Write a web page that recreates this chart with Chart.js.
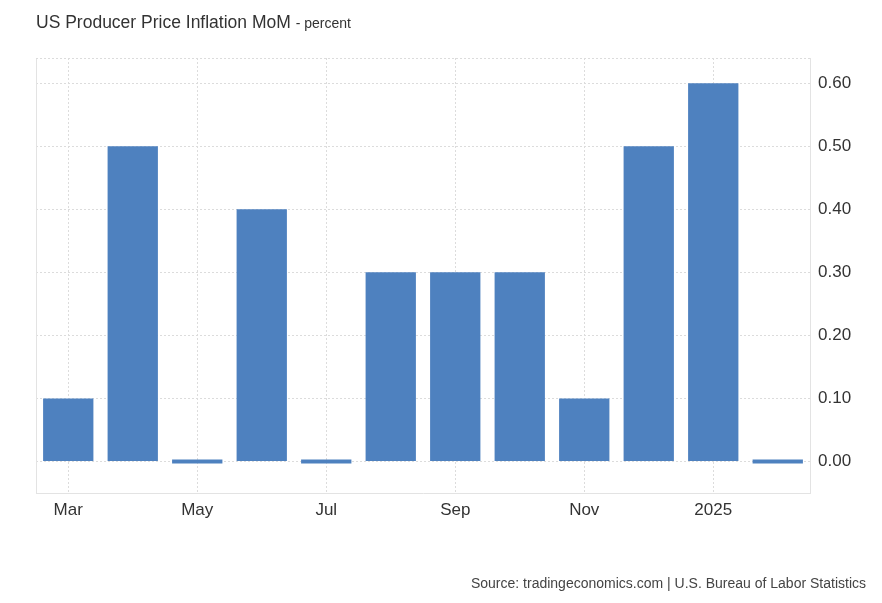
<!DOCTYPE html>
<html>
<head>
<meta charset="utf-8">
<script src="https://cdn.jsdelivr.net/npm/chart.js@4"></script>
<style>
  body { margin: 0; background: #fff; font-family: "Liberation Sans", Arial, sans-serif; }
  #wrap { position: absolute; left: 0; top: 0; width: 882px; height: 603px; }
  #title { position: absolute; left: 36px; top: 12px; font-size: 17.5px; color: #333; }
  #title small { font-size: 14px; }
  #source { position: absolute; right: 16px; top: 575px; font-size: 14px; color: #444; }
</style>
</head>
<body>
<div id="wrap"><canvas id="barChart"></canvas></div>
<div id="title">US Producer Price Inflation MoM <small>- percent</small></div>
<div id="source">Source: tradingeconomics.com | U.S. Bureau of Labor Statistics</div>
<script>
const months = ["Mar", "Apr", "May", "Jun", "Jul", "Aug", "Sep", "Oct", "Nov", "Dec", "2025", "Feb"];
const ppiMoM = [0.1, 0.5, 0.0, 0.4, 0.0, 0.3, 0.3, 0.3, 0.1, 0.5, 0.6, 0.0];
const yTicks = [0, 0.1, 0.2, 0.3, 0.4, 0.5, 0.6];

// left edge + top dotted line of the plot frame
const frame = {
  id: "frame",
  beforeDatasetsDraw(chart) {
    const { ctx, chartArea: a } = chart;
    ctx.save();
    ctx.strokeStyle = "#e3e3e3";
    ctx.lineWidth = 1;
    ctx.beginPath();
    ctx.moveTo(a.left + 0.5, a.top);
    ctx.lineTo(a.left + 0.5, a.bottom);
    ctx.stroke();
    ctx.setLineDash([2, 2]);
    ctx.strokeStyle = "#dcdcdc";
    ctx.beginPath();
    ctx.moveTo(a.left, a.top + 0.5);
    ctx.lineTo(a.right, a.top + 0.5);
    ctx.stroke();
    ctx.restore();
  },
};

const ctx = document.getElementById("barChart").getContext("2d");
new Chart(ctx, {
  type: "bar",
  data: {
    labels: months,
    datasets: [
      {
        data: ppiMoM,
        backgroundColor: "#4e81bf",
        barPercentage: 0.78,
        categoryPercentage: 1,
        minBarLength: 4,
      },
    ],
  },
  options: {
    responsive: true,
    maintainAspectRatio: false,
    animation: false,
    layout: { padding: { top: 58, left: 36, right: 12, bottom: 80 } },
    plugins: { legend: { display: false }, tooltip: { enabled: false } },
    scales: {
      x: {
        grid: {
          offset: false,
          drawTicks: false,
          color: (c) => (c.index % 2 === 0 ? "#dcdcdc" : "rgba(0,0,0,0)"),
        },
        border: { display: true, color: "#e3e3e3", dash: [2, 2] },
        ticks: {
          autoSkip: false,
          maxRotation: 0,
          padding: 7,
          color: "#333",
          font: { family: "Liberation Sans, Arial", size: 17 },
          callback: (v, i) => (i % 2 === 0 ? months[i] : ""),
        },
        afterFit: (s) => { s.height = 30; },
      },
      y: {
        position: "right",
        min: -0.05,
        max: 0.64,
        grid: { drawTicks: false, color: "#dcdcdc" },
        border: { display: true, color: "#e3e3e3", dash: [2, 2] },
        afterBuildTicks: (s) => { s.ticks = yTicks.map((v) => ({ value: v })); },
        ticks: {
          padding: 8,
          color: "#333",
          font: { family: "Liberation Sans, Arial", size: 17 },
          callback: (v) => v.toFixed(2),
        },
        afterFit: (s) => { s.width = 60; },
      },
    },
  },
  plugins: [frame],
});
</script>
</body>
</html>
